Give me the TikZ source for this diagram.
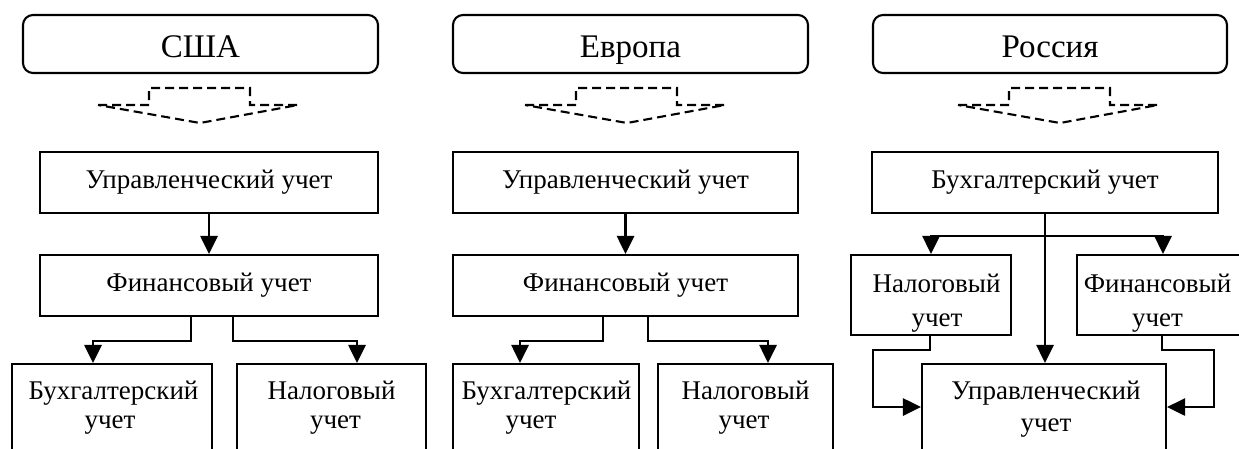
\documentclass[tikz,border=0pt]{standalone}
\usepackage{fontspec}
\setmainfont{Liberation Serif}
\usetikzlibrary{arrows.meta}
\begin{document}
\begin{tikzpicture}[x=1pt,y=-1pt,
  box/.style={draw, line width=2.1pt, inner sep=0pt,
    font=\fontsize{27}{31}\selectfont, text height=18pt, text depth=7pt},
  titlebox/.style={draw, rounded corners=10pt, line width=2.1pt, inner sep=0pt,
    minimum width=355pt, minimum height=58pt,
    font=\fontsize{33}{38}\selectfont, text height=26pt, text depth=0pt},
  txt/.style={inner sep=0pt, anchor=base, font=\fontsize{27}{31}\selectfont},
  conn/.style={line width=2.8pt, -{Triangle[length=18pt,width=17pt]}},
  dnarrow/.pic={\draw[line width=2.1pt, dash pattern=on 9pt off 5pt]
    (-102,105) -- (-51,105) -- (-51,88) -- (50,88) -- (50,105) -- (98,105) -- (0,123) -- cycle;}]
\useasboundingbox (0,0) rectangle (1239,448);
\clip (0,0) rectangle (1239,448);

% titles
\node[titlebox] (t1) at (200.5,44) {США};
\node[titlebox] (t2) at (630.5,44) {Европа};
\node[titlebox, minimum width=354pt] (t3) at (1050,44) {Россия};

% dashed arrows
\pic at (200,0) {dnarrow};
\pic at (627,0) {dnarrow};
\pic at (1060,0) {dnarrow};

% USA
\node[box, minimum width=338pt, minimum height=61pt] (u1) at (209,182.5) {Управленческий учет};
\node[box, minimum width=338pt, minimum height=61pt] (f1) at (209,285.5) {Финансовый учет};
\node[box, minimum width=200pt, minimum height=106pt] (b1) at (112,417) {};
\node[box, minimum width=189pt, minimum height=106pt] (n1) at (331.5,417) {};
\node[txt] (b1a) at (113.5,399) {Бухгалтерский};
\node[txt] (b1b) at (110,428) {учет};
\node[txt] (n1a) at (331.5,399) {Налоговый};
\node[txt] (n1b) at (335.5,428) {учет};
\draw[conn] (u1) -- (f1);
\draw[conn] ([xshift=-18pt]f1.south) -- ++(0,24) -| ([xshift=-19pt]b1.north);
\draw[conn] ([xshift=24pt]f1.south) -- ++(0,24) -| ([xshift=25.5pt]n1.north);

% Europe
\node[box, minimum width=345pt, minimum height=61pt] (u2) at (625.5,182.5) {Управленческий учет};
\node[box, minimum width=345pt, minimum height=61pt] (f2) at (625.5,285.5) {Финансовый учет};
\node[box, minimum width=186pt, minimum height=106pt] (b2) at (546,417) {};
\node[box, minimum width=175pt, minimum height=106pt] (n2) at (745.5,417) {};
\node[txt] (b2a) at (546.5,399) {Бухгалтерский};
\node[txt] (b2b) at (531,428) {учет};
\node[txt] (n2a) at (745.5,399) {Налоговый};
\node[txt] (n2b) at (744,428) {учет};
\draw[conn] (u2) -- (f2);
\draw[conn] ([xshift=-22.5pt]f2.south) -- ++(0,24) -| ([xshift=-26pt]b2.north);
\draw[conn] ([xshift=22.5pt]f2.south) -- ++(0,24) -| ([xshift=22.5pt]n2.north);

% Russia
\node[box, minimum width=346pt, minimum height=61pt] (bu3) at (1045,182.5) {Бухгалтерский учет};
\node[box, minimum width=160pt, minimum height=80pt] (n3) at (931,295) {};
\node[box, minimum width=172pt, minimum height=80pt] (f3) at (1163,295) {};
\node[box, minimum width=244pt, minimum height=106pt] (u3) at (1044,417) {};
\node[txt] (n3a) at (936.5,292) {Налоговый};
\node[txt] (n3b) at (937,326) {учет};
\node[txt] (f3a) at (1157.5,292) {Финансовый};
\node[txt] (f3b) at (1157.5,326) {учет};
\node[txt] (u3a) at (1046,399) {Управленческий};
\node[txt] (u3b) at (1046,431) {учет};
\coordinate (rl) at (873,407);
\coordinate (rr) at (1214,407);
\draw[conn] (bu3.south) -- (bu3.south |- u3.north);
\draw[conn] ([yshift=-22pt]bu3.south) -| (n3.north);
\draw[conn] ([yshift=-22pt]bu3.south) -| (f3.north);
\draw[conn] ([xshift=-1pt]n3.south) -- ++(0,14) -| (rl) -- ([yshift=10pt]u3.west);
\draw[conn] ([xshift=-1pt]f3.south) -- ++(0,14) -| (rr) -- ([yshift=10pt]u3.east);
\end{tikzpicture}
\end{document}
